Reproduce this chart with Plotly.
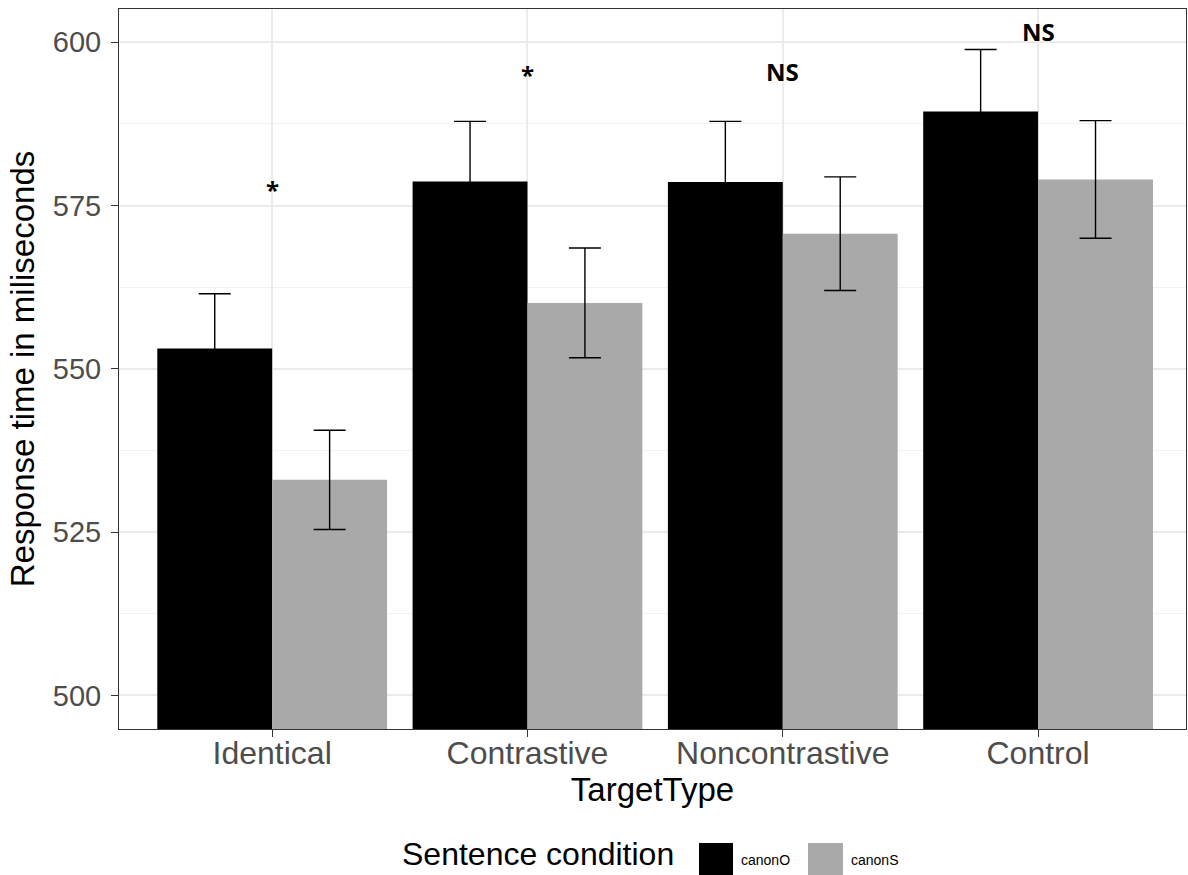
import plotly.graph_objects as go

# Mean response times (ms) with error-bar half-widths, per target type
target_types = ["Identical", "Contrastive", "Noncontrastive", "Control"]
canonO_mean = [553.1, 578.7, 578.6, 589.4]
canonO_err = [8.4, 9.2, 9.3, 9.5]
canonS_mean = [533.0, 560.1, 570.7, 579.0]
canonS_err = [7.6, 8.4, 8.7, 9.0]

# Significance markers above each pair of bars
sig_labels = ["*", "*", "NS", "NS"]
sig_y = [577.5, 595.0, 595.5, 601.6]

series_names = ["canonO", "canonS"]
series_colors = ["#000000", "#A9A9A9"]

W, H = 1188, 875
ML, MR, MT, MB = 119, 2, 9, 146
PW, PH = W - ML - MR, H - MT - MB


def px_x(px):
    return (px - ML) / PW


def px_y(py):
    return (H - MB - py) / PH


fig = go.Figure()
for name, color, mean, err in [
    (series_names[0], series_colors[0], canonO_mean, canonO_err),
    (series_names[1], series_colors[1], canonS_mean, canonS_err),
]:
    fig.add_bar(
        x=target_types,
        y=mean,
        name=name,
        marker=dict(color=color, line=dict(width=0)),
        error_y=dict(type="data", array=err, visible=True,
                     color="#000000", thickness=1.4, width=16),
        showlegend=False,
    )

annotations = []
for cat, lab, yv in zip(target_types, sig_labels, sig_y):
    annotations.append(dict(
        x=cat, y=yv, xref="x", yref="y", text=f"<b>{lab}</b>",
        showarrow=False, xanchor="center", yanchor="middle",
        font=dict(family="Open Sans", size=24, color="#000000"),
    ))

# Legend drawn by hand: title, swatches and labels along the bottom
annotations.append(dict(
    x=px_x(400), y=px_y(854), xref="paper", yref="paper",
    text="Sentence condition", showarrow=False, xanchor="left", yanchor="middle",
    font=dict(family="Liberation Sans", size=32, color="#000000"),
))
swatches = [(699, 733), (808, 843)]
label_x = [739, 849]
shapes = []
for (x0, x1), lx, name, color in zip(swatches, label_x, series_names, series_colors):
    shapes.append(dict(type="rect", xref="paper", yref="paper",
                       x0=px_x(x0), x1=px_x(x1), y0=px_y(876), y1=px_y(843),
                       fillcolor=color, line=dict(width=0)))
    annotations.append(dict(
        x=px_x(lx), y=px_y(860), xref="paper", yref="paper", text=name,
        showarrow=False, xanchor="left", yanchor="middle",
        font=dict(family="Liberation Sans", size=14, color="#000000"),
    ))

fig.update_layout(
    width=W, height=H,
    margin=dict(l=ML, r=MR, t=MT, b=MB, pad=0),
    paper_bgcolor="white", plot_bgcolor="white",
    barmode="group", bargap=0.1, bargroupgap=0,
    font=dict(family="Liberation Sans", color="#000000"),
    annotations=annotations, shapes=shapes,
    showlegend=False,
)

fig.update_xaxes(
    type="category", range=[-0.6, -0.6 + PW / 255.3],
    showgrid=True, gridcolor="#EBEBEB", gridwidth=2,
    showline=True, linecolor="#333333", linewidth=1, mirror=True,
    ticks="outside", ticklen=7, tickcolor="#333333", tickwidth=1,
    ticklabelstandoff=-11,
    tickfont=dict(family="Liberation Sans", size=32, color="#4D4D4D"),
    title=dict(text="TargetType", standoff=4,
               font=dict(family="Liberation Sans", size=33, color="#000000")),
    zeroline=False,
)
fig.update_yaxes(
    range=[494.85, 605.1], tick0=500, dtick=25,
    showgrid=True, gridcolor="#EBEBEB", gridwidth=2,
    minor=dict(tick0=500, dtick=12.5, showgrid=True, gridcolor="#F2F2F2", gridwidth=1),
    showline=True, linecolor="#333333", linewidth=1, mirror=True,
    ticks="outside", ticklen=7, tickcolor="#333333", tickwidth=1,
    ticklabelstandoff=4,
    tickfont=dict(family="Liberation Sans", size=29, color="#4D4D4D"),
    title=dict(text="Response time in miliseconds", standoff=8,
               font=dict(family="Liberation Sans", size=33, color="#000000")),
    zeroline=False,
)

fig.write_html("out.html")
